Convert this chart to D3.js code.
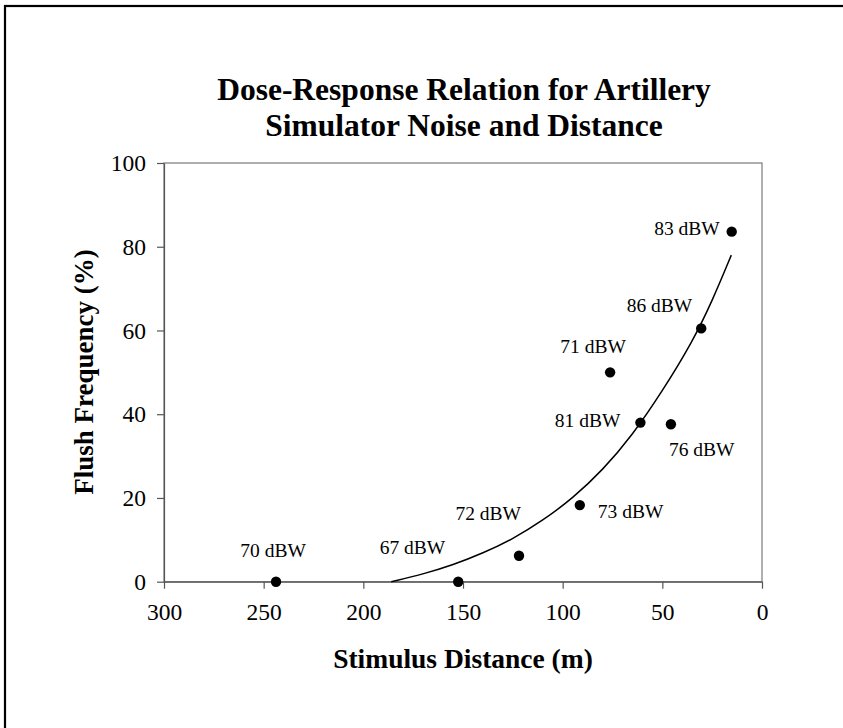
<!DOCTYPE html>
<html>
<head>
<meta charset="utf-8">
<script src="https://cdn.jsdelivr.net/npm/d3@7"></script>
<style>
  body { margin: 0; background: #fff; }
  svg { display: block; font-family: "Liberation Serif", "Times New Roman", serif; }
</style>
</head>
<body>
<div id="chart"></div>
<script>
// Données
const distances = [243.8, 152.4, 121.9, 91.4, 76.2, 61.0, 45.7, 30.5, 15.2];
const flushPct  = [0, 0, 6.2, 18.3, 50, 38.0, 37.6, 60.5, 83.6];
const noiseLabels = ['70 dBW', '67 dBW', '72 dBW', '73 dBW', '71 dBW', '81 dBW', '76 dBW', '86 dBW', '83 dBW'];

// Courbe de tendance (points relevés)
const trendDist = [186, 170, 155, 140, 125, 110, 95, 80, 65, 50, 35, 25, 15.4];
const trendPct  = [0, 1.8, 4.0, 6.8, 10.2, 14.6, 19.9, 26.6, 35.0, 45.5, 57.2, 67.0, 78.0];

const xTicks = [300, 250, 200, 150, 100, 50, 0];
const yTicks = [0, 20, 40, 60, 80, 100];

// Placement des étiquettes (ancre, décalage en px)
const labelPos = [
  { anchor: 'middle', dx: -3,  dy: -25 },
  { anchor: 'end',    dx: -13, dy: -28 },
  { anchor: 'end',    dx: 2,   dy: -36 },
  { anchor: 'start',  dx: 18,  dy: 13 },
  { anchor: 'middle', dx: -17, dy: -19 },
  { anchor: 'end',    dx: -20, dy: 4 },
  { anchor: 'start',  dx: -2,  dy: 32 },
  { anchor: 'end',    dx: -9,  dy: -16 },
  { anchor: 'end',    dx: -12, dy: 3 }
];

const W = 843, H = 728;
const svg = d3.select('#chart').append('svg')
  .attr('width', W)
  .attr('height', H);

// Cadre extérieur
svg.append('rect')
  .attr('x', 5).attr('y', 6)
  .attr('width', 860).attr('height', 740)
  .attr('fill', 'none')
  .attr('stroke', '#000')
  .attr('stroke-width', 2.2);

const x = d3.scaleLinear().domain([300, 0]).range([164, 762]);
const y = d3.scaleLinear().domain([0, 100]).range([581.7, 163]);

// Zone de tracé
svg.append('rect')
  .attr('x', x(300)).attr('y', y(100))
  .attr('width', x(0) - x(300)).attr('height', y(0) - y(100))
  .attr('fill', 'none')
  .attr('stroke', '#7a7a7a')
  .attr('stroke-width', 1.2);

// Axes
const xAxis = svg.append('g')
  .attr('transform', `translate(0,${y(0)})`)
  .call(d3.axisBottom(x).tickValues(xTicks).tickSize(7).tickSizeOuter(0).tickPadding(15));
const yAxis = svg.append('g')
  .attr('transform', `translate(${x(300)},0)`)
  .call(d3.axisLeft(y).tickValues(yTicks).tickSize(7).tickSizeOuter(0).tickPadding(11));

[xAxis, yAxis].forEach(a => {
  a.select('.domain').attr('stroke', '#555').attr('stroke-width', 1.2);
  a.selectAll('.tick line').attr('stroke', '#555').attr('stroke-width', 1.2);
  a.selectAll('.tick text')
    .style('font-family', '"Liberation Serif", serif')
    .style('font-size', '23.5px')
    .attr('fill', '#000');
});

// Courbe
const trend = trendDist.map((d, i) => [d, trendPct[i]]);
svg.append('path')
  .datum(trend)
  .attr('fill', 'none')
  .attr('stroke', '#000')
  .attr('stroke-width', 1.5)
  .attr('d', d3.line()
    .x(d => x(d[0]))
    .y(d => y(d[1]))
    .curve(d3.curveBasis));

// Points
svg.append('g').selectAll('circle')
  .data(distances)
  .enter().append('circle')
  .attr('cx', d => x(d))
  .attr('cy', (d, i) => y(flushPct[i]))
  .attr('r', 5.2)
  .attr('fill', '#000');

// Étiquettes des points
svg.append('g').selectAll('text')
  .data(distances)
  .enter().append('text')
  .attr('x', (d, i) => x(d) + labelPos[i].dx)
  .attr('y', (d, i) => y(flushPct[i]) + labelPos[i].dy)
  .attr('text-anchor', (d, i) => labelPos[i].anchor)
  .style('font-size', '19.5px')
  .text((d, i) => noiseLabels[i]);

// Titre
const title = svg.append('text')
  .attr('text-anchor', 'middle')
  .style('font-size', '31.5px')
  .style('font-weight', 'bold');
title.append('tspan').attr('x', 464).attr('y', 100).text('Dose-Response Relation for Artillery');
title.append('tspan').attr('x', 464).attr('y', 136).text('Simulator Noise and Distance');

// Titres des axes
svg.append('text')
  .attr('x', 463).attr('y', 668)
  .attr('text-anchor', 'middle')
  .style('font-size', '27.5px')
  .style('font-weight', 'bold')
  .text('Stimulus Distance (m)');

svg.append('text')
  .attr('transform', 'translate(93,372) rotate(-90)')
  .attr('text-anchor', 'middle')
  .style('font-size', '27px')
  .style('font-weight', 'bold')
  .text('Flush Frequency (%)');
</script>
</body>
</html>
